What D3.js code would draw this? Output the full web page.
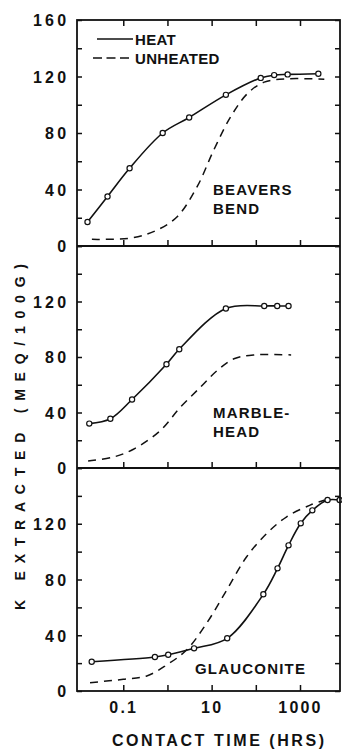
<!DOCTYPE html>
<html>
<head>
<meta charset="utf-8">
<script src="https://cdnjs.cloudflare.com/ajax/libs/d3/7.8.5/d3.min.js"></script>
<style>
  body { margin: 0; background: #fff; }
  svg { display: block; }
  text { font-family: "Liberation Sans", Arial, sans-serif; fill: #111; font-weight: bold; }
</style>
</head>
<body>
<script>
// contact time ticks (hrs) and which of them carry a label
var timeTicks = [0.1, 1, 10, 100, 1000];
var timeLabels = ["0.1", "10", "1000"];
var kTicks = [0, 20, 40, 60, 80, 100, 120, 140, 160];

// Beavers Bend
var beaversHeatT = [0.0155, 0.044, 0.139, 0.78, 3.1, 21, 129, 260, 525, 2600];
var beaversHeatK = [17, 35, 55, 80, 91, 107, 119, 121, 121.5, 122];
var beaversUnT = [0.0195, 0.17, 0.58, 1.66, 4.7, 11.2, 27, 65, 155, 525, 3550];
var beaversUnK = [4.7, 5.9, 11.3, 20.7, 42, 68, 91.5, 108, 116, 118.4, 118];

// Marblehead
var marbleHeatT = [0.017, 0.051, 0.158, 0.95, 1.85, 21, 155, 305, 550];
var marbleHeatK = [32, 35.5, 49.4, 74.8, 85.6, 115, 116.8, 116.8, 116.8];
var marbleUnT = [0.016, 0.06, 0.17, 0.69, 1.97, 5.6, 13.4, 32, 91, 630];
var marbleUnK = [5, 7.9, 13.5, 27, 43.9, 58.3, 70.3, 78.7, 81.5, 81.5];

// Glauconite
var glaucHeatT = [0.0193, 0.52, 1.04, 4.0, 22.5, 148, 310, 550, 1040, 1900, 4200, 7900];
var glaucHeatK = [21, 24.4, 26, 30.6, 37.8, 69.4, 88, 104.5, 120.3, 129.6, 137, 137];
var glaucUnT = [0.0177, 0.1, 0.34, 0.96, 2.7, 7.7, 22, 62, 176, 500, 1700, 3650];
var glaucUnK = [6, 8.4, 10.8, 18.7, 29.4, 48.6, 72.5, 96.3, 113, 125, 133.4, 137];

var W = 342, H = 749;
var left = 77, right = 340;
var panelTops = [20, 246, 468];
var panelBots = [246, 468, 691];

var svg = d3.select("body").append("svg").attr("width", W).attr("height", H);

var x = d3.scaleLog().domain([0.00897, 8040]).range([left, right]);

var panels = [
	{ label: ["BEAVERS", "BEND"], lx: 213, ly: 195, heat: [beaversHeatT, beaversHeatK], un: [beaversUnT, beaversUnK], yLabels: [0, 40, 80, 120, 160] },
	{ label: ["MARBLE-", "HEAD"], lx: 213, ly: 418, heat: [marbleHeatT, marbleHeatK], un: [marbleUnT, marbleUnK], yLabels: [0, 40, 80, 120] },
	{ label: ["GLAUCONITE"], lx: 195, ly: 674, heat: [glaucHeatT, glaucHeatK], un: [glaucUnT, glaucUnK], yLabels: [0, 40, 80, 120] }
];

function zip(a, b) {
	return a.map(function(d, i) { return [d, b[i]]; });
}

panels.forEach(function(p, i) {
	var y = d3.scaleLinear().domain([0, 160]).range([panelBots[i], panelTops[i]]);
	var g = svg.append("g");

	// left axis, inward ticks, labels outside
	var la = g.append("g").attr("transform", "translate(" + left + ",0)")
		.call(d3.axisLeft(y).tickValues(kTicks).tickSizeInner(-5).tickSizeOuter(0).tickPadding(7.5)
			.tickFormat(function(d) { return p.yLabels.indexOf(d) >= 0 ? d : ""; }));
	la.select(".domain").remove();
	la.selectAll("line").attr("stroke", "#111").attr("stroke-width", 1.5);
	la.selectAll("text").attr("font-size", 16).attr("letter-spacing", 3.3).attr("fill", "#111")
		.attr("font-family", "Liberation Sans, Arial, sans-serif").attr("dy", "0.36em");

	// right axis, inward ticks
	var ra = g.append("g").attr("transform", "translate(" + right + ",0)")
		.call(d3.axisRight(y).tickValues(kTicks).tickSizeInner(-5).tickSizeOuter(0).tickFormat(""));
	ra.select(".domain").remove();
	ra.selectAll("line").attr("stroke", "#111").attr("stroke-width", 1.5);

	// bottom axis of this panel, ticks point up
	var ba = g.append("g").attr("transform", "translate(0," + panelBots[i] + ")")
		.call(d3.axisBottom(x).tickValues(timeTicks).tickSizeInner(-6).tickSizeOuter(0).tickPadding(11)
			.tickFormat(function(d) { return i === 2 && timeLabels.indexOf(String(d)) >= 0 ? String(d) : ""; }));
	ba.select(".domain").remove();
	ba.selectAll("line").attr("stroke", "#111").attr("stroke-width", 1.5);
	ba.selectAll("text").attr("font-size", 16).attr("letter-spacing", 2.2).attr("fill", "#111")
		.attr("font-family", "Liberation Sans, Arial, sans-serif");

	if (i === 0) {
		var ta = g.append("g").attr("transform", "translate(0," + panelTops[0] + ")")
			.call(d3.axisTop(x).tickValues(timeTicks).tickSizeInner(-6).tickSizeOuter(0).tickFormat(""));
		ta.select(".domain").remove();
		ta.selectAll("line").attr("stroke", "#111").attr("stroke-width", 1.5);
	}

	var line = d3.line()
		.x(function(d) { return x(d[0]); })
		.y(function(d) { return y(d[1]); })
		.curve(d3.curveCatmullRom.alpha(0.5));

	g.append("path").datum(zip(p.un[0], p.un[1]))
		.attr("d", line).attr("fill", "none").attr("stroke", "#111")
		.attr("stroke-width", 1.5).attr("stroke-dasharray", "8,6");

	var heat = zip(p.heat[0], p.heat[1]);
	g.append("path").datum(heat)
		.attr("d", line).attr("fill", "none").attr("stroke", "#111").attr("stroke-width", 1.6);

	g.selectAll("circle").data(heat).enter().append("circle")
		.attr("cx", function(d) { return x(d[0]); })
		.attr("cy", function(d) { return y(d[1]); })
		.attr("r", 2.6).attr("fill", "#fff").attr("stroke", "#111").attr("stroke-width", 1.2);

	p.label.forEach(function(t, j) {
		g.append("text").attr("x", p.lx).attr("y", p.ly + j * 19)
			.attr("font-size", 15).attr("letter-spacing", 1.2).text(t);
	});
});

// frame
svg.append("rect").attr("x", left).attr("y", panelTops[0])
	.attr("width", right - left).attr("height", panelBots[2] - panelTops[0])
	.attr("fill", "none").attr("stroke", "#111").attr("stroke-width", 1.8);
[panelBots[0], panelBots[1]].forEach(function(yy) {
	svg.append("line").attr("x1", left).attr("x2", right).attr("y1", yy).attr("y2", yy)
		.attr("stroke", "#111").attr("stroke-width", 1.8);
});

// legend
svg.append("line").attr("x1", 97).attr("x2", 133).attr("y1", 39).attr("y2", 39)
	.attr("stroke", "#111").attr("stroke-width", 1.6);
svg.append("text").attr("x", 135).attr("y", 45).attr("font-size", 15).attr("letter-spacing", 0.3).text("HEAT");
svg.append("line").attr("x1", 93).attr("x2", 133).attr("y1", 58).attr("y2", 58)
	.attr("stroke", "#111").attr("stroke-width", 1.6).attr("stroke-dasharray", "9,4.5");
svg.append("text").attr("x", 135).attr("y", 64).attr("font-size", 15).attr("letter-spacing", 0.3).text("UNHEATED");

// axis titles
svg.append("text").attr("transform", "translate(25,437) rotate(-90)")
	.attr("text-anchor", "middle").attr("font-size", 14)
	.attr("textLength", 346).attr("lengthAdjust", "spacing")
	.text("K EXTRACTED (MEQ/100G)");
svg.append("text").attr("x", 218).attr("y", 746)
	.attr("text-anchor", "middle").attr("font-size", 16)
	.attr("textLength", 212).attr("lengthAdjust", "spacing")
	.text("CONTACT TIME (HRS)");
</script>
</body>
</html>
